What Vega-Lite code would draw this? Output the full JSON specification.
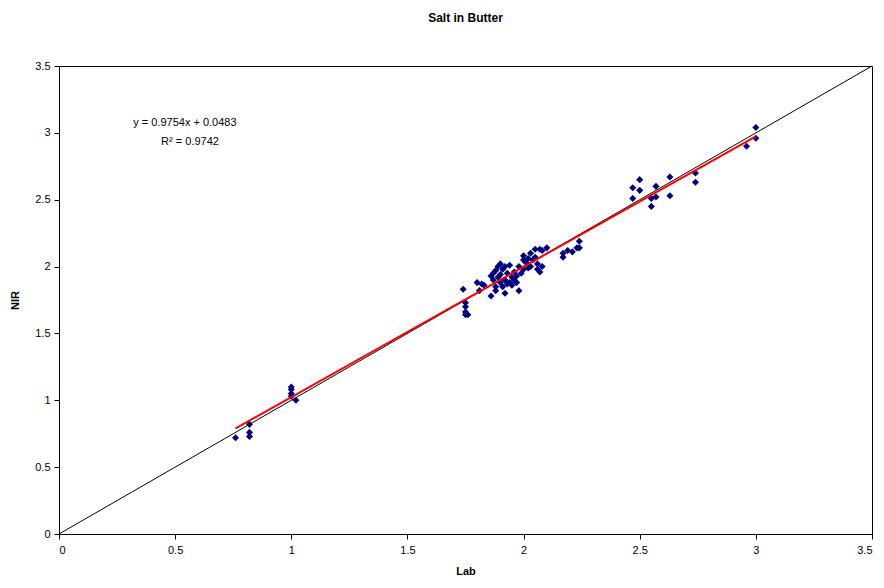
{
  "$schema": "https://vega.github.io/schema/vega-lite/v6.json",
  "width": 813,
  "height": 468,
  "autosize": {"type": "none"},
  "padding": {"left": 59, "top": 66, "right": 12, "bottom": 54},
  "background": "white",
  "title": {"text": "Salt in Butter", "font": "Liberation Sans", "fontSize": 12, "fontWeight": "bold", "color": "black", "anchor": "middle", "offset": 35},
  "config": {
    "view": {"stroke": "black", "strokeWidth": 1},
    "axis": {"grid": false, "domainColor": "black", "tickColor": "black", "tickSize": 5, "labelFont": "Liberation Sans", "labelFontSize": 11, "labelColor": "black", "titleFont": "Liberation Sans", "titleFontSize": 11, "titleFontWeight": "bold", "titleColor": "black"}
  },
  "datasets": {
    "pts": [
      {"lab": 0.76, "nir": 0.72}, {"lab": 0.82, "nir": 0.73}, {"lab": 0.82, "nir": 0.76}, {"lab": 0.82, "nir": 0.82},
      {"lab": 1.0, "nir": 1.1}, {"lab": 1.0, "nir": 1.08}, {"lab": 1.0, "nir": 1.05}, {"lab": 1.0, "nir": 1.03}, {"lab": 1.02, "nir": 1.0},
      {"lab": 1.74, "nir": 1.83}, {"lab": 1.75, "nir": 1.73}, {"lab": 1.75, "nir": 1.7}, {"lab": 1.75, "nir": 1.66}, {"lab": 1.76, "nir": 1.64}, {"lab": 1.75, "nir": 1.64},
      {"lab": 1.8, "nir": 1.88}, {"lab": 1.81, "nir": 1.82}, {"lab": 1.82, "nir": 1.87}, {"lab": 1.83, "nir": 1.86}, {"lab": 1.86, "nir": 1.78},
      {"lab": 1.86, "nir": 1.93}, {"lab": 1.87, "nir": 1.95}, {"lab": 1.87, "nir": 1.9}, {"lab": 1.88, "nir": 1.97}, {"lab": 1.88, "nir": 1.85},
      {"lab": 1.88, "nir": 1.82}, {"lab": 1.89, "nir": 2.0}, {"lab": 1.89, "nir": 1.92}, {"lab": 1.9, "nir": 1.88}, {"lab": 1.9, "nir": 2.02},
      {"lab": 1.9, "nir": 1.94}, {"lab": 1.91, "nir": 1.98}, {"lab": 1.91, "nir": 1.85}, {"lab": 1.92, "nir": 1.8}, {"lab": 1.92, "nir": 1.9},
      {"lab": 1.92, "nir": 2.0}, {"lab": 1.93, "nir": 1.87}, {"lab": 1.93, "nir": 1.95}, {"lab": 1.94, "nir": 2.01}, {"lab": 1.94, "nir": 1.88},
      {"lab": 1.95, "nir": 1.92}, {"lab": 1.95, "nir": 1.86}, {"lab": 1.96, "nir": 1.9}, {"lab": 1.96, "nir": 1.96}, {"lab": 1.97, "nir": 1.93},
      {"lab": 1.97, "nir": 1.88}, {"lab": 1.98, "nir": 1.82}, {"lab": 1.98, "nir": 2.0}, {"lab": 1.99, "nir": 1.95}, {"lab": 2.0, "nir": 2.05},
      {"lab": 2.0, "nir": 1.98}, {"lab": 2.0, "nir": 2.08}, {"lab": 2.01, "nir": 2.03}, {"lab": 2.02, "nir": 2.06}, {"lab": 2.02, "nir": 1.99},
      {"lab": 2.03, "nir": 2.1}, {"lab": 2.03, "nir": 2.0}, {"lab": 2.04, "nir": 2.05}, {"lab": 2.05, "nir": 2.13}, {"lab": 2.05, "nir": 2.07},
      {"lab": 2.06, "nir": 1.98}, {"lab": 2.06, "nir": 2.02}, {"lab": 2.07, "nir": 2.13}, {"lab": 2.07, "nir": 1.96}, {"lab": 2.08, "nir": 2.0},
      {"lab": 2.08, "nir": 2.12}, {"lab": 2.1, "nir": 2.14},
      {"lab": 2.17, "nir": 2.07}, {"lab": 2.17, "nir": 2.1}, {"lab": 2.19, "nir": 2.12}, {"lab": 2.21, "nir": 2.11}, {"lab": 2.23, "nir": 2.14}, {"lab": 2.24, "nir": 2.19}, {"lab": 2.24, "nir": 2.14},
      {"lab": 2.47, "nir": 2.51}, {"lab": 2.47, "nir": 2.59}, {"lab": 2.5, "nir": 2.65}, {"lab": 2.5, "nir": 2.57}, {"lab": 2.55, "nir": 2.45},
      {"lab": 2.55, "nir": 2.51}, {"lab": 2.57, "nir": 2.6}, {"lab": 2.57, "nir": 2.52}, {"lab": 2.63, "nir": 2.53}, {"lab": 2.63, "nir": 2.67},
      {"lab": 2.74, "nir": 2.63}, {"lab": 2.74, "nir": 2.7}, {"lab": 2.96, "nir": 2.9}, {"lab": 3.0, "nir": 3.04}, {"lab": 3.0, "nir": 2.96}
    ],
    "ident": [{"lab": 0, "nir": 0}, {"lab": 3.5, "nir": 3.5}],
    "fit": [{"lab": 0.76, "nir": 0.7896}, {"lab": 3.0, "nir": 2.9745}],
    "notes": [
      {"lab": 0.542, "nir": 3.07, "label": "y = 0.9754x + 0.0483"},
      {"lab": 0.564, "nir": 2.935, "label": "R² = 0.9742"}
    ]
  },
  "encoding": {
    "x": {"field": "lab", "type": "quantitative", "title": "Lab", "scale": {"domain": [0, 3.5], "nice": false, "zero": true},
      "axis": {"values": [0, 0.5, 1, 1.5, 2, 2.5, 3, 3.5], "labelPadding": 5, "titlePadding": 10, "format": "~g"}},
    "y": {"field": "nir", "type": "quantitative", "title": "NIR", "scale": {"domain": [0, 3.5], "nice": false, "zero": true},
      "axis": {"values": [0, 0.5, 1, 1.5, 2, 2.5, 3, 3.5], "labelPadding": 4, "titlePadding": 14, "format": "~g"}}
  },
  "layer": [
    {"data": {"name": "pts"}, "mark": {"type": "point", "shape": "diamond", "filled": true, "size": 50, "color": "#000080", "opacity": 1}},
    {"data": {"name": "ident"}, "mark": {"type": "line", "color": "black", "strokeWidth": 1}},
    {"data": {"name": "fit"}, "mark": {"type": "line", "color": "#FF0000", "strokeWidth": 2}},
    {"data": {"name": "notes"}, "mark": {"type": "text", "font": "Liberation Sans", "fontSize": 11, "color": "black", "align": "center", "baseline": "middle"}, "encoding": {"text": {"field": "label"}}}
  ]
}
